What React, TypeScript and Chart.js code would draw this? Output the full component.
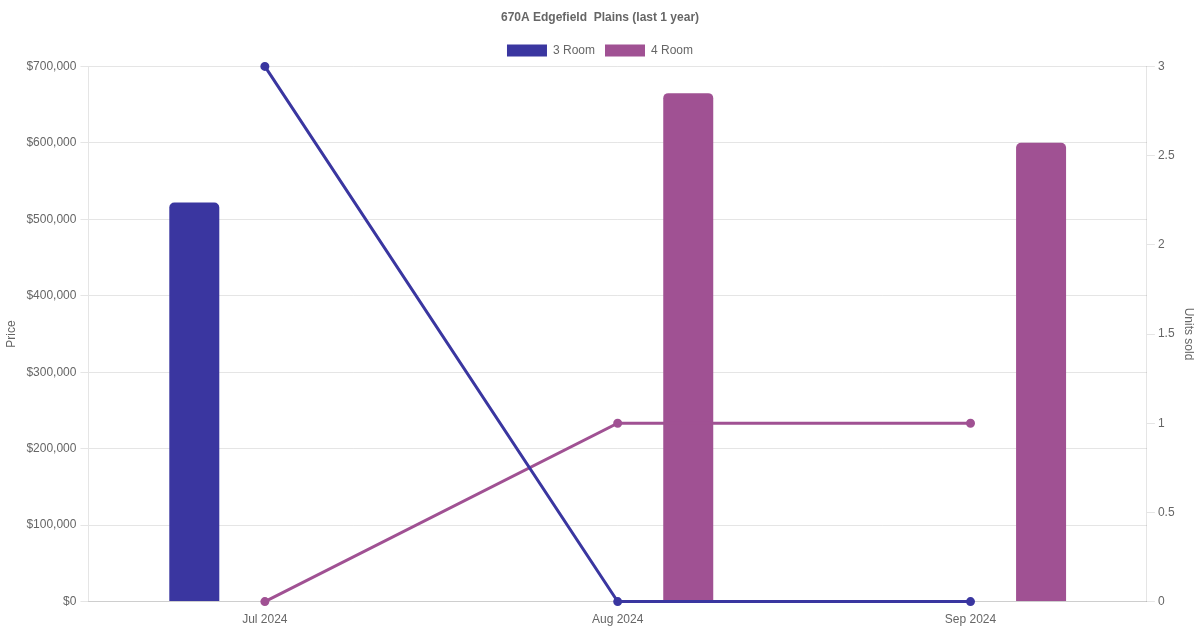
import { useEffect, useRef } from 'react';
import Chart from 'chart.js/auto';

const months = ['Jul 2024', 'Aug 2024', 'Sep 2024'];
const price3Room = [522000, null, null];
const price4Room = [null, 665000, 600000];
const units3Room = [3, 0, 0];
const units4Room = [0, 1, 1];

const BLUE = '#3A36A0';
const PURPLE = '#A05193';

const App = () => {
  const chartRef = useRef<HTMLCanvasElement | null>(null);
  const chartInstanceRef = useRef<Chart | null>(null);

  useEffect(() => {
    const ctx = chartRef.current!.getContext('2d')!;
    if (chartInstanceRef.current) {
      chartInstanceRef.current.destroy();
    }

    chartInstanceRef.current = new Chart(ctx, {
      type: 'bar',
      data: {
        labels: months,
        datasets: [
          {
            type: 'bar',
            label: '3 Room',
            data: price3Room,
            backgroundColor: BLUE,
            borderColor: BLUE,
            borderRadius: 5,
            maxBarThickness: 50,
            order: 1,
            yAxisID: 'y',
          },
          {
            type: 'bar',
            label: '4 Room',
            data: price4Room,
            backgroundColor: PURPLE,
            borderColor: PURPLE,
            borderRadius: 5,
            maxBarThickness: 50,
            order: 1,
            yAxisID: 'y',
          },
          {
            type: 'line',
            label: '3 Room units',
            data: units3Room,
            borderColor: BLUE,
            backgroundColor: BLUE,
            borderWidth: 3,
            pointRadius: 3,
            clip: false,
            order: 0,
            yAxisID: 'y1',
          },
          {
            type: 'line',
            label: '4 Room units',
            data: units4Room,
            borderColor: PURPLE,
            backgroundColor: PURPLE,
            borderWidth: 3,
            pointRadius: 3,
            clip: false,
            order: 0,
            yAxisID: 'y1',
          },
        ] as any,
      },
      options: {
        animation: false,
        responsive: true,
        maintainAspectRatio: false,
        scales: {
          x: {
            grid: { display: false },
          },
          y: {
            position: 'left',
            min: 0,
            max: 700000,
            ticks: {
              stepSize: 100000,
              padding: 4,
              callback: (value) => '$' + Number(value).toLocaleString('en-US'),
            },
            title: { display: true, text: 'Price' },
          },
          y1: {
            position: 'right',
            min: 0,
            max: 3,
            ticks: { stepSize: 0.5, callback: (value) => String(Number(value)) },
            grid: { drawOnChartArea: false },
            title: { display: true, text: 'Units sold' },
          },
        },
        plugins: {
          title: {
            display: true,
            text: '670A Edgefield  Plains (last 1 year)',
          },
          legend: {
            labels: {
              filter: (item) => item.text === '3 Room' || item.text === '4 Room',
            },
          },
          tooltip: { enabled: false },
        },
      },
    });

    return () => {
      if (chartInstanceRef.current) {
        chartInstanceRef.current.destroy();
        chartInstanceRef.current = null;
      }
    };
  }, []);

  return (
    <div style={{ position: 'fixed', top: 0, left: 0, width: 1200, height: 630, background: '#fff' }}>
      <canvas ref={chartRef}></canvas>
    </div>
  );
};

export default App;
